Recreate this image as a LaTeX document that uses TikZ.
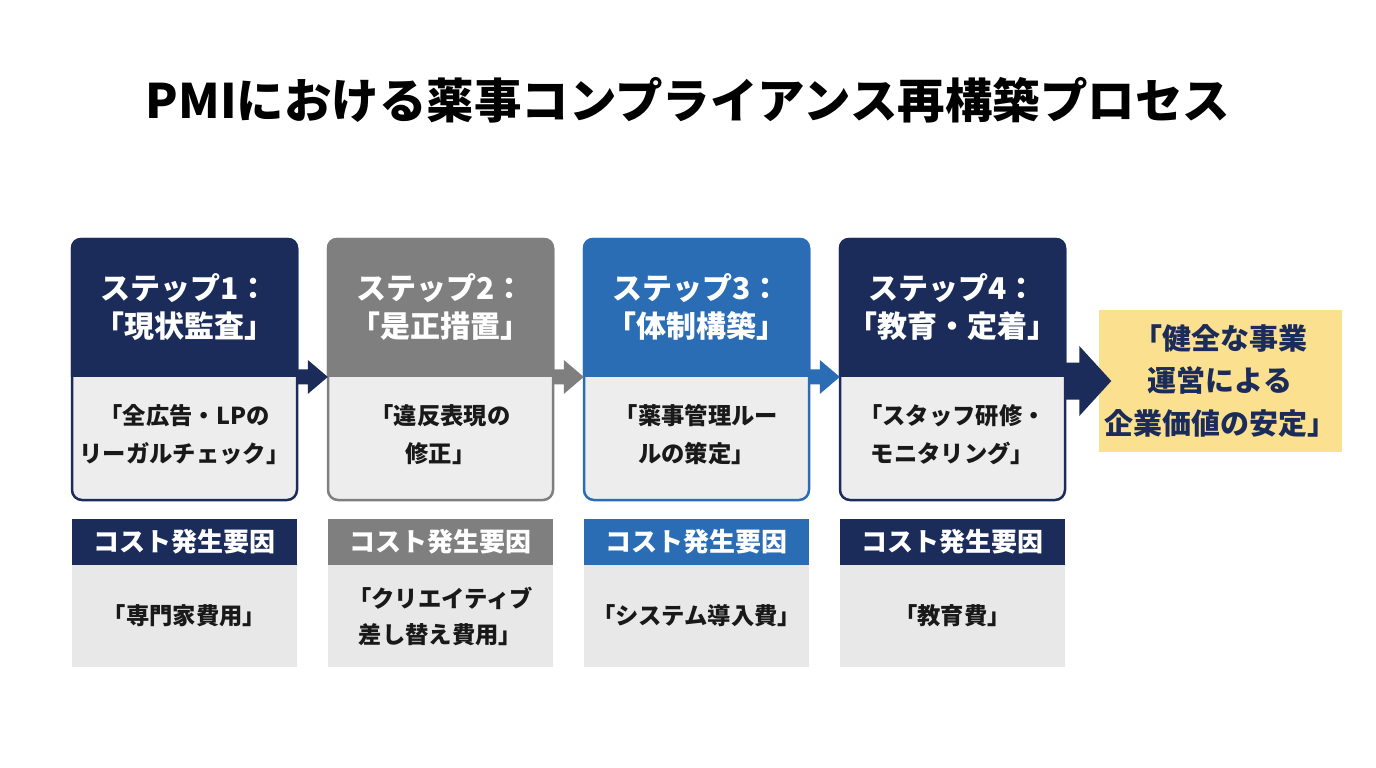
\documentclass[tikz,border=0pt]{standalone}
\usepackage{fontspec}
\setmainfont{Noto Sans CJK JP}
\usetikzlibrary{calc}
\definecolor{navy}{HTML}{1B2C5A}
\definecolor{stepgray}{HTML}{7F7F7F}
\definecolor{stepblue}{HTML}{2A6DB5}
\definecolor{bodygray}{HTML}{EDEDED}
\definecolor{costgray}{HTML}{E8E8E8}
\definecolor{goalyellow}{HTML}{FBE18F}
\newcommand\blockarr[6]{%
  \fill[#1] ($(#2)+(0,-#4)$) -- ($(#3)+(-#6,-#4)$) -- ($(#3)+(-#6,-#5)$) -- (#3)
    -- ($(#3)+(-#6,#5)$) -- ($(#3)+(-#6,#4)$) -- ($(#2)+(0,#4)$) -- cycle;}
\begin{document}
\begin{tikzpicture}[x=1pt,y=-1pt,
  stepbox/.style={draw=#1, fill=bodygray, line width=2.5pt, rounded corners=10pt,
    minimum width=225pt, minimum height=261pt, inner sep=0pt},
  headtxt/.style={text=white, font=\fontsize{30}{38}\selectfont\bfseries, align=center,
    minimum width=225pt, minimum height=139pt, inner sep=0pt},
  bodytxt/.style={text=black!90, font=\fontsize{23.3}{38}\selectfont\bfseries, align=center,
    minimum width=225pt, minimum height=122pt, inner sep=0pt},
  costhead/.style={fill=#1, text=white, font=\fontsize{26}{30}\selectfont\bfseries,
    minimum width=225pt, minimum height=46pt, inner sep=0pt},
  costbody/.style={fill=costgray, text=black!90, font=\fontsize{23.3}{36}\selectfont\bfseries,
    align=center, minimum width=225pt, minimum height=102pt, inner sep=0pt},
]
\useasboundingbox (0,0) rectangle (1376,768);
\fill[white] (0,0) rectangle (1376,768);

\node[font=\fontsize{47.5}{50}\selectfont\bfseries] (title) at (688,100) {PMIにおける薬事コンプライアンス再構築プロセス};

% step boxes
\foreach \i/\x/\c in {1/184.5/navy, 2/440.5/stepgray, 3/696.5/stepblue, 4/952.5/navy}{
  \node[stepbox=\c] (s\i) at (\x,369.5) {};
  \begin{scope}
    \clip (s\i.north west) rectangle ($(s\i.north east)+(0,139)$);
    \fill[\c, rounded corners=10pt] (s\i.north west) rectangle (s\i.south east);
  \end{scope}
}

\node[headtxt] (h1) at ($(s1.north)+(0,69.5)$) {ステップ1：\\「現状監査」};
\node[headtxt] (h2) at ($(s2.north)+(0,69.5)$) {ステップ2：\\「是正措置」};
\node[headtxt] (h3) at ($(s3.north)+(0,69.5)$) {ステップ3：\\「体制構築」};
\node[headtxt] (h4) at ($(s4.north)+(0,69.5)$) {ステップ4：\\「教育・定着」};

\node[bodytxt] (b1) at ($(s1.north)+(0,197)$) {「全広告・LPの\\リーガルチェック」};
\node[bodytxt] (b2) at ($(s2.north)+(0,197)$) {「違反表現の\\修正」};
\node[bodytxt] (b3) at ($(s3.north)+(0,197)$) {「薬事管理ルー\\ルの策定」};
\node[bodytxt] (b4) at ($(s4.north)+(0,197)$) {「スタッフ研修・\\モニタリング」};

% cost rows
\node[costhead=navy] (c1) at (184.5,542) {コスト発生要因};
\node[costhead=stepgray] (c2) at (440.5,542) {コスト発生要因};
\node[costhead=stepblue] (c3) at (696.5,542) {コスト発生要因};
\node[costhead=navy] (c4) at (952.5,542) {コスト発生要因};

\node[costbody] (d1) at (184.5,616) {「専門家費用」};
\node[costbody] (d2) at (440.5,616) {「クリエイティブ\\差し替え費用」};
\node[costbody] (d3) at (696.5,616) {「システム導入費」};
\node[costbody] (d4) at (952.5,616) {「教育費」};

% goal
\node[fill=goalyellow, text=navy, font=\fontsize{29}{42.5}\selectfont\bfseries, align=center,
  minimum width=243pt, minimum height=142pt, inner sep=0pt] (goal) at (1220,381)
  {「健全な事業\\運営による\\企業価値の安定」};

% arrows
\blockarr{navy}{h1.south east}{h2.south west}{7.5}{17}{20}
\blockarr{stepgray}{h2.south east}{h3.south west}{7.5}{17}{20}
\blockarr{stepblue}{h3.south east}{h4.south west}{7.5}{17}{20}
\coordinate (e4) at (h4.east |- goal.west);
\coordinate (g4) at ($(goal.west)+(13,0)$);
\blockarr{navy}{e4}{g4}{18.5}{35}{32}
\end{tikzpicture}
\end{document}
